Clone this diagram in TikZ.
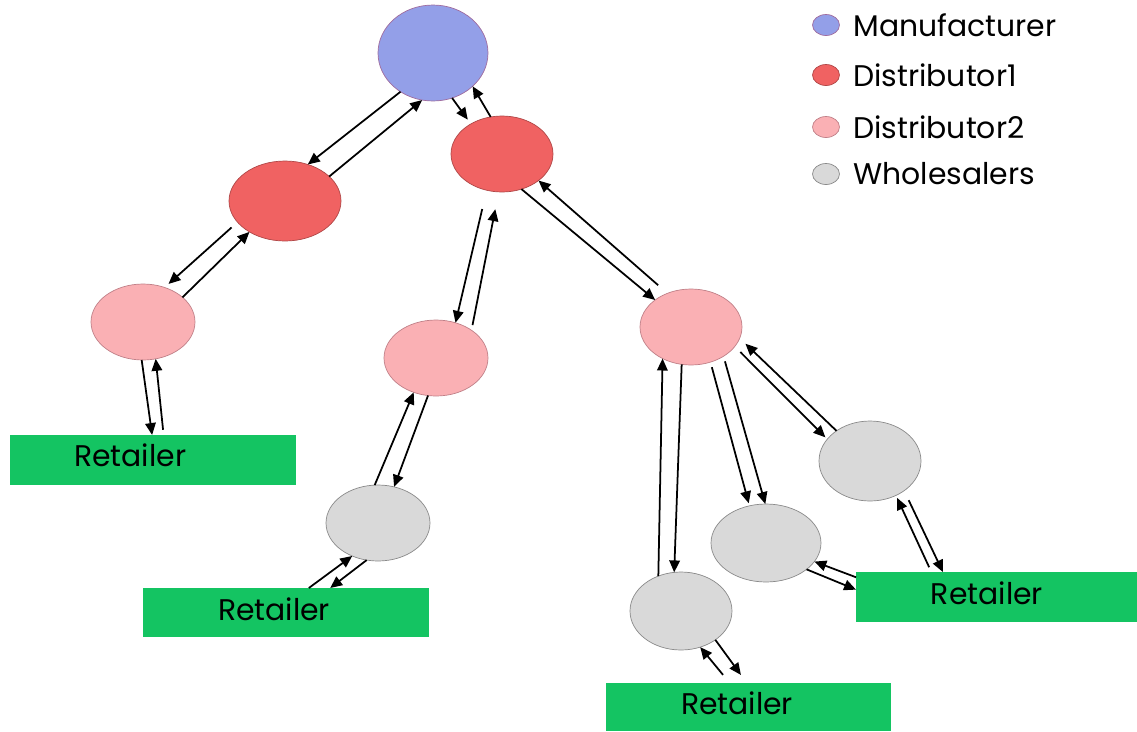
\documentclass[tikz,border=0pt]{standalone}
\usepackage{fontspec}
\setmainfont{Poppins}
\usetikzlibrary{arrows.meta,positioning,shapes.geometric}

\definecolor{manblue}{HTML}{939FE8}
\definecolor{manline}{HTML}{A06C9E}
\definecolor{distred}{HTML}{F06262}
\definecolor{redline}{HTML}{B04848}
\definecolor{distpink}{HTML}{FAB0B4}
\definecolor{pinkline}{HTML}{C08088}
\definecolor{wholegrey}{HTML}{D9D9D9}
\definecolor{greyline}{HTML}{8A8A8A}
\definecolor{retgreen}{HTML}{14C462}

\tikzset{
	party/.style={ellipse, inner sep=0pt, outer sep=0pt, line width=0.4pt},
	manuf/.style={party, fill=manblue, draw=manline},
	distone/.style={party, fill=distred, draw=redline},
	disttwo/.style={party, fill=distpink, draw=pinkline},
	whole/.style={party, fill=wholegrey, draw=greyline},
	retailer/.style={rectangle, fill=retgreen, inner sep=0pt, outer sep=0pt},
	legdot/.style={minimum width=0.54cm, minimum height=0.42cm},
	legtext/.style={inner sep=0pt, anchor=west},
	>={Triangle[length=6.8pt,width=6pt]},
}

\begin{document}
\begin{tikzpicture}[x=0.02cm,y=-0.02cm,line width=1pt,font=\fontsize{17}{20}\selectfont]
\useasboundingbox (0,0) rectangle (1137,731);

% parties
\node[manuf, minimum width=2.2cm, minimum height=1.92cm] (man) at (433,53) {};
\node[distone, minimum width=2.24cm, minimum height=1.6cm] (d1l) at (285,201) {};
\node[distone, minimum width=2.04cm, minimum height=1.52cm] (d1r) at (502,154) {};
\node[disttwo, minimum width=2.08cm, minimum height=1.52cm] (d2l) at (143,322) {};
\node[disttwo, minimum width=2.08cm, minimum height=1.52cm] (d2m) at (436,358) {};
\node[disttwo, minimum width=2.04cm, minimum height=1.52cm] (d2r) at (691,327) {};
\node[whole, minimum width=2.08cm, minimum height=1.52cm] (wm) at (378,523) {};
\node[whole, minimum width=2.04cm, minimum height=1.6cm] (wt) at (870,461) {};
\node[whole, minimum width=2.2cm, minimum height=1.56cm] (wr) at (766,543) {};
\node[whole, minimum width=2.04cm, minimum height=1.56cm] (wb) at (681,611) {};

% retailers
\node[retailer, minimum width=5.72cm, minimum height=1cm,
	label={[xshift=-13pt,yshift=2.8pt]center:Retailer}] (rl) at (153,460) {};
\node[retailer, minimum width=5.72cm, minimum height=0.98cm,
	label={[xshift=-6.8pt,yshift=2pt]center:Retailer}] (rm) at (286,612.5) {};
\node[retailer, minimum width=5.62cm, minimum height=1cm,
	label={[xshift=-5.4pt,yshift=2.3pt]center:Retailer}] (rr) at (996.5,597) {};
\node[retailer, minimum width=5.7cm, minimum height=0.96cm,
	label={[xshift=-6.5pt,yshift=2.3pt]center:Retailer}] (rb) at (748.5,707) {};

% flows
\draw[->] (man.230) -- (d1l.58);
\draw[->] (d1l.29) -- (man.257);
\draw[->,shorten >=3pt] (man.293) -- (d1r.136);
\draw[->] (d1r.107) -- (man.320);

\draw[->,shorten <=4.5pt,shorten >=3pt] (d1l.204) -- (d2l.58);
\draw[->] (d2l.32) -- (d1l.221);
\draw[->] (d2l.268) -- (rl.92);
\draw[->,shorten <=3pt] (rl.67) -- (d2l.289);

\draw[->,shorten <=11pt] (d1r.247) -- (d2m.61);
\draw[->,shorten <=3pt,shorten >=10pt] (d2m.38) -- (d1r.265);
\draw[->] (d1r.299) -- (d2r.143);
\draw[->,shorten <=7pt] (d2r.125) -- (d1r.324);

\draw[->] (wm.95) -- (d2m.237);
\draw[->] (d2m.258) -- (wm.66);
\draw[->] (rm.47) -- (wm.232);
\draw[->] (wm.253) -- (rm.29);

\draw[->] (wb.123) -- (d2r.228);
\draw[->] (d2r.256) -- (wb.100);
\draw[->,shorten <=3pt,shorten >=1.5pt] (d2r.299) -- (wr.114);
\draw[->,shorten <=3pt] (d2r.318) -- (wr.91);
\draw[->,shorten <=4.5pt,shorten >=1.5pt] (d2r.336) -- (wt.153);
\draw[->,shorten >=4.5pt] (wt.138) -- (d2r.347);

\draw[->] (rr.172) -- (wr.339);
\draw[->] (wr.327) -- (rr.177);
\draw[->,shorten <=3pt,shorten >=1.5pt] (rr.159) -- (wt.307);
\draw[->,shorten <=6pt] (wt.319) -- (rr.155);
\draw[->,shorten <=6pt] (rb.128) -- (wb.298);
\draw[->,shorten >=5.7pt] (wb.320) -- (rb.94);

% legend
\foreach \y/\sty/\txt [count=\i] in {25/manuf/Manufacturer, 75/distone/Distributor1,
	127/disttwo/Distributor2, 174/whole/Wholesalers} {
	\node[\sty, legdot] (leg\i) at (826,\y) {};
	\node[legtext, right=7.4pt of leg\i] (legt\i) {\txt};
}
\end{tikzpicture}
\end{document}
